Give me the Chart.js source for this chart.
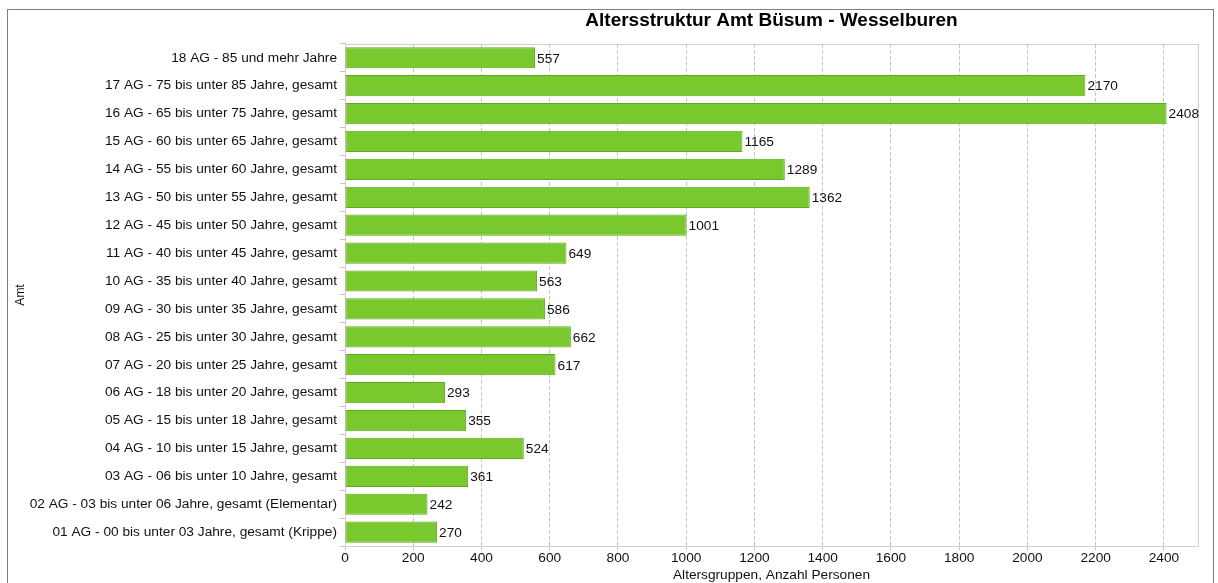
<!DOCTYPE html>
<html>
<head>
<meta charset="utf-8">
<script src="https://cdn.jsdelivr.net/npm/chart.js@4"></script>
<style>
  html, body { margin: 0; padding: 0; background: #fff; }
  #wrap { width: 1218px; height: 583px; }
</style>
</head>
<body>
<div id="wrap"><canvas id="chart" width="1218" height="583"></canvas></div>
<script>
// Altersgruppen (von oben nach unten)
const categories = [
  "18 AG - 85 und mehr Jahre",
  "17 AG - 75 bis unter 85 Jahre, gesamt",
  "16 AG - 65 bis unter 75 Jahre, gesamt",
  "15 AG - 60 bis unter 65 Jahre, gesamt",
  "14 AG - 55 bis unter 60 Jahre, gesamt",
  "13 AG - 50 bis unter 55 Jahre, gesamt",
  "12 AG - 45 bis unter 50 Jahre, gesamt",
  "11 AG - 40 bis unter 45 Jahre, gesamt",
  "10 AG - 35 bis unter 40 Jahre, gesamt",
  "09 AG - 30 bis unter 35 Jahre, gesamt",
  "08 AG - 25 bis unter 30 Jahre, gesamt",
  "07 AG - 20 bis unter 25 Jahre, gesamt",
  "06 AG - 18 bis unter 20 Jahre, gesamt",
  "05 AG - 15 bis unter 18 Jahre, gesamt",
  "04 AG - 10 bis unter 15 Jahre, gesamt",
  "03 AG - 06 bis unter 10 Jahre, gesamt",
  "02 AG - 03 bis unter 06 Jahre, gesamt (Elementar)",
  "01 AG - 00 bis unter 03 Jahre, gesamt (Krippe)"
];

// Anzahl Personen
const personen = [557, 2170, 2408, 1165, 1289, 1362, 1001, 649, 563, 586, 662, 617, 293, 355, 524, 361, 242, 270];

// x-Achse
const xMax = 2500;
const xTicks = [0, 200, 400, 600, 800, 1000, 1200, 1400, 1600, 1800, 2000, 2200, 2400];

const FONT = "'Liberation Sans', Arial, sans-serif";
const FS = 13.7;

// Rahmen + Werte neben den Balken
const frame = {
  id: "frame",
  beforeDraw(chart) {
    const ctx = chart.ctx;
    ctx.save();
    ctx.fillStyle = "#fff";
    ctx.fillRect(0, 0, chart.width, chart.height);
    ctx.strokeStyle = "#7a7f85";
    ctx.lineWidth = 1;
    ctx.strokeRect(7.5, 9.5, 1206, 620);
    ctx.restore();
  },
  beforeDatasetsDraw(chart) {
    const { ctx, chartArea: a } = chart;
    ctx.save();
    ctx.strokeStyle = "#d0d0d0";
    ctx.lineWidth = 1;
    ctx.strokeRect(Math.round(a.left) + 0.5, Math.round(a.top) + 0.5, Math.round(a.right - a.left), Math.round(a.bottom - a.top));
    ctx.restore();
  },
  afterDatasetsDraw(chart) {
    const ctx = chart.ctx;
    const meta = chart.getDatasetMeta(0);
    ctx.save();
    ctx.font = FS + "px " + FONT;
    ctx.fillStyle = "#111";
    ctx.textBaseline = "middle";
    ctx.textAlign = "left";
    meta.data.forEach((bar, i) => {
      ctx.fillText(String(personen[i]), bar.x + 2, bar.y + 1);
    });
    ctx.restore();
  }
};

new Chart(document.getElementById("chart").getContext("2d"), {
  type: "bar",
  data: {
    labels: categories,
    datasets: [{
      data: personen,
      backgroundColor: "#78c82e",
      borderColor: "#5fa822",
      borderWidth: 1,
      borderSkipped: false,
      categoryPercentage: 0.76,
      barPercentage: 1.0
    }]
  },
  options: {
    indexAxis: "y",
    responsive: false,
    animation: false,
    layout: { padding: { left: 13, right: 20, top: 0, bottom: 0 } },
    plugins: {
      legend: { display: false },
      tooltip: { enabled: false },
      title: {
        display: true,
        fullSize: false,
        text: "Altersstruktur Amt Büsum - Wesselburen",
        color: "#000",
        font: { family: FONT, size: 19, weight: "bold" },
        padding: { top: 9, bottom: 12 }
      }
    },
    scales: {
      x: {
        min: 0,
        max: xMax,
        afterBuildTicks(scale) {
          scale.ticks = xTicks.map(v => ({ value: v }));
        },
        grid: {
          color: "#c4c4c4",
          tickColor: "#c4c4c4",
          tickLength: 4
        },
        border: { display: true, color: "#c8c8c8", dash: [4, 2] },
        ticks: {
          color: "#111",
          font: { family: FONT, size: FS },
          padding: 0,
          maxRotation: 0,
          callback: v => String(v)
        },
        title: {
          display: true,
          text: "Altersgruppen, Anzahl Personen",
          color: "#111",
          font: { family: FONT, size: FS },
          padding: { top: 0, bottom: 0 }
        }
      },
      y: {
        afterFit(scale) { scale.width = 332; },
        grid: {
          display: true,
          drawOnChartArea: false,
          color: "#c4c4c4",
          tickLength: 5
        },
        border: { display: true, color: "#c8c8c8" },
        ticks: {
          color: "#111",
          font: { family: FONT, size: FS },
          padding: 3
        },
        title: {
          display: true,
          text: "Amt",
          color: "#111",
          font: { family: FONT, size: 12 },
          padding: { top: 0, bottom: 0 }
        }
      }
    }
  },
  plugins: [frame]
});
</script>
</body>
</html>
